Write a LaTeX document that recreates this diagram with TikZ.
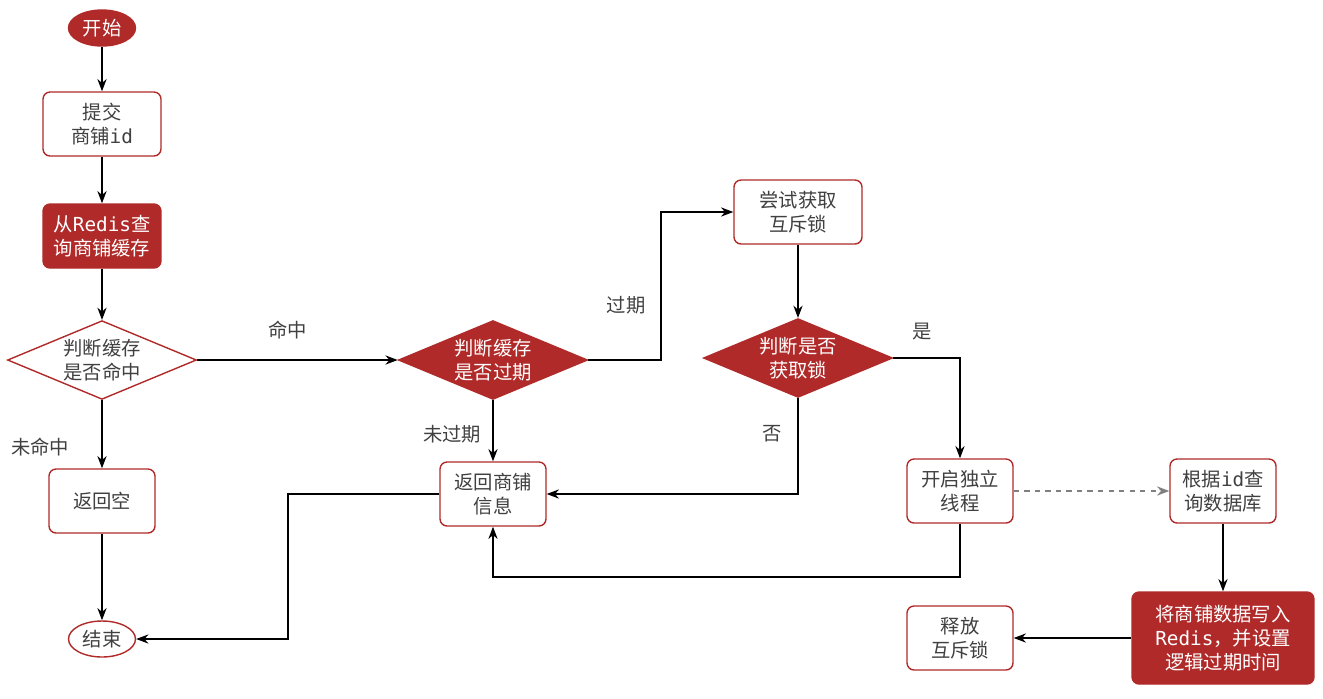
\documentclass[tikz,border=0pt]{standalone}
\usepackage{fontspec}
\setmainfont{Noto Sans CJK SC}
\setmonofont{DejaVu Sans Mono}
\usetikzlibrary{shapes.geometric,arrows.meta}
\definecolor{rd}{HTML}{B02A2A}
\definecolor{tx}{HTML}{404040}
\tikzset{
  every node/.style={font=\fontsize{11}{13.5}\selectfont, text=tx, align=center},
  box/.style={draw=rd, thick, rounded corners=4pt, fill=white, minimum width=#1},
  box/.default=2.12cm,
  rbox/.style={box=#1, fill=rd, text=white},
  rbox/.default=2.36cm,
  dia/.style={diamond, draw=rd, thick, aspect=2.4, inner sep=1pt, minimum width=3.76cm, minimum height=1.56cm},
  rdia/.style={dia, fill=rd, text=white},
  term/.style={ellipse, draw=rd, thick, minimum width=1.34cm, minimum height=0.72cm, inner sep=1pt},
  arr/.style={-{Stealth[length=7pt]}, thick, black},
  lbl/.style={font=\fontsize{11}{13}\selectfont}
}
\begin{document}
\begin{tikzpicture}[x=0.02cm,y=-0.02cm]
\useasboundingbox (0,0) rectangle (1323,698);
% nodes
\node[term, fill=rd, text=white] (start) at (102,28) {开始};
\node[box=2.36cm, minimum height=1.28cm] (submit) at (102,124) {提交\\商铺{\ttfamily id}};
\node[rbox, minimum height=1.28cm] (query) at (102,236) {从{\ttfamily Redis}查\\询商铺缓存};
\node[dia] (hit) at (102,360) {判断缓存\\是否命中};
\node[box, minimum height=1.28cm] (empty) at (102,501) {返回空};
\node[term] (end) at (102,639) {结束};
\node[rdia] (expire) at (493,360) {判断缓存\\是否过期};
\node[box, minimum height=1.28cm] (ret) at (493,494) {返回商铺\\信息};
\node[box=2.56cm, minimum height=1.28cm] (try) at (798,212) {尝试获取\\互斥锁};
\node[rdia] (lock) at (798,358) {判断是否\\获取锁};
\node[box, minimum height=1.28cm] (thread) at (960,491) {开启独立\\线程};
\node[box, minimum height=1.28cm] (db) at (1223,491) {根据{\ttfamily id}查\\询数据库};
\node[rbox=3.64cm, minimum height=1.84cm] (write) at (1223,638) {将商铺数据写入\\{\ttfamily Redis}，并设置\\逻辑过期时间};
\node[box, minimum height=1.28cm] (unlock) at (960,638) {释放\\互斥锁};
% connectors
\draw[arr] (start) -- (submit);
\draw[arr] (submit) -- (query);
\draw[arr] (query) -- (hit);
\draw[arr] (hit) -- node[lbl, above, pos=0.45, yshift=8pt] {命中} (expire);
\draw[arr] (hit) -- (empty);
\node[lbl] at (40,447) {未命中};
\draw[arr] (empty) -- (end);
\draw[arr] (expire.east) -| (661,212) -- (try.west);
\node[lbl] at (626,305) {过期};
\draw[arr] (expire) -- (ret);
\node[lbl] at (452,434) {未过期};
\draw[arr] (try) -- (lock);
\draw[arr] (lock.east) -| (thread.north);
\node[lbl] at (922,332) {是};
\draw[arr] (lock.south) |- (ret.east);
\node[lbl] at (772,434) {否};
\draw[arr] (ret.west) -| (288,639) -- (end.east);
\draw[arr] (thread.south) |- (493,577) -- (ret.south);
\draw[-{Stealth[length=7pt]}, thick, gray, dashed] (thread) -- (db);
\draw[arr] (db) -- (write);
\draw[arr] (write) -- (unlock);
\end{tikzpicture}
\end{document}
